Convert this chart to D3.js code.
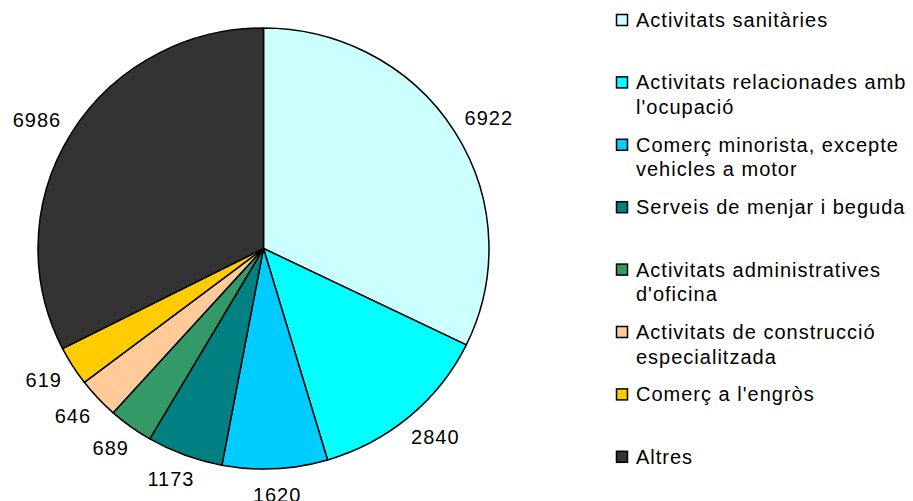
<!DOCTYPE html>
<html>
<head>
<meta charset="utf-8">
<script src="https://cdn.jsdelivr.net/npm/d3@7"></script>
<style>
  body { margin: 0; background: #fff; }
  svg { display: block; font-family: "Liberation Sans", Arial, sans-serif; }
</style>
</head>
<body>
<svg id="chart"></svg>
<script>
// Categories (legend lines) and values
const categories = [
    ["Activitats sanitàries"],
    ["Activitats relacionades amb", "l'ocupació"],
    ["Comerç minorista, excepte", "vehicles a motor"],
    ["Serveis de menjar i beguda"],
    ["Activitats administratives", "d'oficina"],
    ["Activitats de construcció", "especialitzada"],
    ["Comerç  a l'engròs"],
    ["Altres"]
];
const values = [6922, 2840, 1620, 1173, 689, 646, 619, 6986];
const colors = ["#CCFFFF", "#00FFFF", "#00CCFF", "#008080", "#339966", "#FFCC99", "#FFCC00", "#333333"];

// Canvas size
const width = 913, height = 501;
// Pie is a touch wider than tall
const cx = 263.5, cy = 248.5, rx = 225.5, ry = 220.5;

const svg = d3.select("#chart")
              .attr("width", width)
              .attr("height", height);

const pie = d3.pie().sort(null).value(d => d);
const arcs = pie(values);
const arc = d3.arc().innerRadius(0).outerRadius(ry);

svg.append("g")
   .attr("transform", `translate(${cx},${cy}) scale(${rx / ry},1)`)
   .selectAll("path")
   .data(arcs)
   .join("path")
   .attr("d", arc)
   .attr("fill", (d, i) => colors[i])
   .attr("stroke", "#000")
   .attr("stroke-width", 1.5)
   .attr("stroke-linejoin", "round")
   .attr("vector-effect", "non-scaling-stroke");

// Value labels outside the pie, box pushed out along mid angle
const fontSize = 20, gap = 16, labelH = 20;
const labels = svg.append("g")
   .selectAll("text")
   .data(arcs)
   .join("text")
   .style("font-size", fontSize + "px")
   .style("letter-spacing", "1px")
   .attr("fill", "#000")
   .attr("text-anchor", "middle")
   .attr("dominant-baseline", "central")
   .text(d => d.value);

labels.each(function(d) {
    const w = this.getComputedTextLength();
    const a = (d.startAngle + d.endAngle) / 2;
    const s = Math.sin(a), c = -Math.cos(a);
    const x = cx + rx * s + gap * s + (w / 2) * s;
    const y = cy + ry * c + gap * c + (labelH / 2) * c;
    d3.select(this).attr("x", x).attr("y", y);
});

// Legend
const legendTop = 20, legendStep = 62.4, lineH = 24.5;
const legend = svg.append("g")
   .selectAll("g")
   .data(categories)
   .join("g")
   .attr("transform", (d, i) => `translate(616,${legendTop + i * legendStep})`);

legend.append("rect")
      .attr("x", 0.5)
      .attr("y", -5.5)
      .attr("width", 11)
      .attr("height", 11)
      .attr("fill", (d, i) => colors[i])
      .attr("stroke", "#000")
      .attr("stroke-width", 1.5);

legend.append("text")
      .style("font-size", fontSize + "px")
      .style("letter-spacing", "1px")
      .attr("fill", "#000")
      .selectAll("tspan")
      .data(d => d)
      .join("tspan")
      .attr("x", 20)
      .attr("y", (d, j) => j * lineH)
      .attr("dominant-baseline", "central")
      .text(d => d);
</script>
</body>
</html>
